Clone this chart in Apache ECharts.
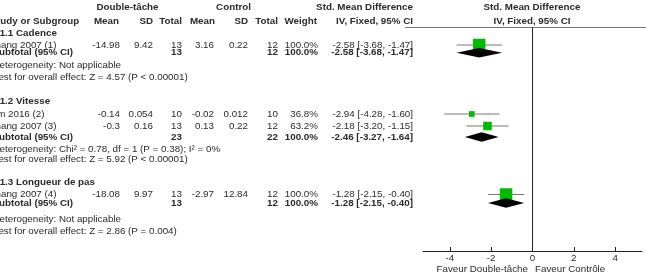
<!DOCTYPE html>
<html>
<head>
<meta charset="utf-8">
<title>Forest plot</title>
<script src="https://cdn.jsdelivr.net/npm/echarts@6/dist/echarts.min.js"></script>
<style>
  html, body { margin: 0; padding: 0; background: #fff; }
  #chart_01 { width: 646px; height: 274px; }
</style>
</head>
<body>
<div id="chart_01"></div>
<script>
// 数据
var groups = ['1.1.1 Cadence', '1.1.2 Vitesse', '1.1.3 Longueur de pas'];
var studies = ['Zhang 2007 (1)', 'Lim 2016 (2)', 'Zhang 2007 (3)', 'Zhang 2007 (4)'];
var studyGroup = [0, 1, 1, 2];
var dtMean = [-14.98, -0.14, -0.3, -18.08];
var dtSD = [9.42, 0.054, 0.16, 9.97];
var dtN = [13, 10, 13, 13];
var ctMean = [3.16, -0.02, 0.13, -2.97];
var ctSD = [0.22, 0.012, 0.22, 12.84];
var ctN = [12, 10, 12, 12];
var weight = [100.0, 36.8, 63.2, 100.0];
var smd = [-2.58, -2.94, -2.18, -1.28];
var smdLo = [-3.68, -4.28, -3.20, -2.15];
var smdHi = [-1.47, -1.60, -1.15, -0.40];

var subN1 = [13, 23, 13];
var subN2 = [12, 22, 12];
var subWeight = [100.0, 100.0, 100.0];
var subSmd = [-2.58, -2.46, -1.28];
var subLo = [-3.68, -3.27, -2.15];
var subHi = [-1.47, -1.64, -0.40];
var heterogeneity = [
    'Heterogeneity: Not applicable',
    'Heterogeneity: Chi\u00b2 = 0.78, df = 1 (P = 0.38); I\u00b2 = 0%',
    'Heterogeneity: Not applicable'
];
var overallEffect = [
    'Test for overall effect: Z = 4.57 (P < 0.00001)',
    'Test for overall effect: Z = 5.92 (P < 0.00001)',
    'Test for overall effect: Z = 2.86 (P = 0.004)'
];
var tickLabels = [-4, -2, 0, 2, 4];
var favourLeft = 'Faveur Double-t\u00e2che';
var favourRight = 'Faveur Contr\u00f4le';

;(function(window) {

    // 行位置 (y 轴坐标 = 页面像素行)
    var groupRow = [33, 101, 182];
    var studyRow = [45, 114, 126, 194.5];
    var subRow = [52.7, 137, 203];
    var hetRow = [65.5, 149, 219];
    var testRow = [77.5, 159, 231];

    var FONT = '9.8px "Liberation Sans", Arial, sans-serif';
    var BOLD = 'bold 9.8px "Liberation Sans", Arial, sans-serif';
    var COLOR = '#2a2a2a';

    initChart();

    function fmtCI(m, lo, hi) {
        return m.toFixed(2) + ' [' + lo.toFixed(2) + ', ' + hi.toFixed(2) + ']';
    }

    function txt(str, x, y, align, font) {
        return {
            type: 'text',
            silent: true,
            style: {
                text: str, x: x, y: y,
                textAlign: align || 'left',
                textVerticalAlign: 'middle',
                font: font || FONT,
                fill: COLOR
            }
        };
    }

    function buildTable() {
        var g = [];
        var left = -8.5;
        // 表头
        g.push(txt('Double-t\u00e2che', 127.5, 7.5, 'center', BOLD));
        g.push(txt('Control', 233.5, 7.5, 'center', BOLD));
        g.push(txt('Std. Mean Difference', 413, 7.5, 'right', BOLD));
        g.push(txt('Std. Mean Difference', 532, 7.5, 'center', BOLD));
        g.push(txt('Study or Subgroup', left - 1, 21, 'left', BOLD));
        g.push(txt('Mean', 119, 21, 'right', BOLD));
        g.push(txt('SD', 153, 21, 'right', BOLD));
        g.push(txt('Total', 182, 21, 'right', BOLD));
        g.push(txt('Mean', 215, 21, 'right', BOLD));
        g.push(txt('SD', 248, 21, 'right', BOLD));
        g.push(txt('Total', 278, 21, 'right', BOLD));
        g.push(txt('Weight', 317, 21, 'right', BOLD));
        g.push(txt('IV, Fixed, 95% CI', 413, 21, 'right', BOLD));
        g.push(txt('IV, Fixed, 95% CI', 532, 21, 'center', BOLD));

        g.push({
            type: 'line', silent: true,
            shape: { x1: 405, y1: 27.5, x2: 646, y2: 27.5 },
            style: { stroke: '#777', lineWidth: 1 }
        });

        for (var k = 0; k < groups.length; k++) {
            g.push(txt(groups[k], left, groupRow[k], 'left', BOLD));
            g.push(txt('Subtotal (95% CI)', left + 1, subRow[k], 'left', BOLD));
            g.push(txt(String(subN1[k]), 182, subRow[k], 'right', BOLD));
            g.push(txt(String(subN2[k]), 278, subRow[k], 'right', BOLD));
            g.push(txt(subWeight[k].toFixed(1) + '%', 318, subRow[k], 'right', BOLD));
            g.push(txt(fmtCI(subSmd[k], subLo[k], subHi[k]), 413, subRow[k], 'right', BOLD));
            g.push(txt(heterogeneity[k], left + 1, hetRow[k]));
            g.push(txt(overallEffect[k], left + 2, testRow[k]));
        }
        for (var i = 0; i < studies.length; i++) {
            var y = studyRow[i];
            g.push(txt(studies[i], left - 2, y));
            g.push(txt(String(dtMean[i]), 120, y, 'right'));
            g.push(txt(String(dtSD[i]), 153, y, 'right'));
            g.push(txt(String(dtN[i]), 182, y, 'right'));
            g.push(txt(String(ctMean[i]), 214, y, 'right'));
            g.push(txt(String(ctSD[i]), 248, y, 'right'));
            g.push(txt(String(ctN[i]), 278, y, 'right'));
            g.push(txt(weight[i].toFixed(1) + '%', 318, y, 'right'));
            g.push(txt(fmtCI(smd[i], smdLo[i], smdHi[i]), 413, y, 'right'));
        }
        g.push(txt(favourLeft, 528, 269, 'right'));
        g.push(txt(favourRight, 535, 269, 'left'));
        return g;
    }

    function initChart() {
        var myChart_01 = echarts.init(document.getElementById('chart_01'));

        var studyData = studies.map(function(s, i) {
            return [smd[i], studyRow[i], smdLo[i], smdHi[i], weight[i]];
        });
        var subData = groups.map(function(s, k) {
            return [subSmd[k], subRow[k], subLo[k], subHi[k]];
        });

        var options = {
            animation: false,
            grid: { left: 423, right: 4, top: 27, bottom: 23 },
            xAxis: {
                type: 'value', min: -5.3, max: 5.3,
                splitLine: { show: false },
                axisLine: { lineStyle: { color: '#222', width: 1 } },
                axisTick: { inside: true, length: 4, customValues: tickLabels, lineStyle: { color: '#222' } },
                axisLabel: {
                    customValues: tickLabels, margin: 2,
                    fontSize: 9.8, color: '#2a2a2a', fontFamily: '"Liberation Sans", Arial, sans-serif'
                }
            },
            yAxis: {
                type: 'value', min: 27, max: 251, inverse: true, show: false
            },
            graphic: buildTable(),
            series: [{
                name: 'studies',
                type: 'custom',
                data: studyData,
                encode: { x: [0, 2, 3], y: 1 },
                renderItem: function(params, api) {
                    var y = api.value(1);
                    var c = api.coord([api.value(0), y]);
                    var a = api.coord([api.value(2), y]);
                    var b = api.coord([api.value(3), y]);
                    var s = 1.8 + 0.107 * api.value(4);
                    return {
                        type: 'group',
                        children: [{
                            type: 'line',
                            shape: { x1: a[0], y1: c[1], x2: b[0], y2: c[1] },
                            style: { stroke: '#777', lineWidth: 1 }
                        }, {
                            type: 'rect',
                            shape: { x: c[0] - s / 2, y: c[1] - s / 2, width: s, height: s },
                            style: { fill: '#00bb00' }
                        }]
                    };
                },
                markLine: {
                    silent: true, symbol: 'none',
                    label: { show: false },
                    lineStyle: { color: '#222', width: 1, type: 'solid' },
                    data: [{ xAxis: 0 }]
                }
            }, {
                name: 'subtotals',
                type: 'custom',
                data: subData,
                encode: { x: [0, 2, 3], y: 1 },
                renderItem: function(params, api) {
                    var y = api.value(1);
                    var c = api.coord([api.value(0), y]);
                    var a = api.coord([api.value(2), y]);
                    var b = api.coord([api.value(3), y]);
                    var h = 4.7;
                    return {
                        type: 'polygon',
                        shape: { points: [[a[0], c[1]], [c[0], c[1] - h], [b[0], c[1]], [c[0], c[1] + h]] },
                        style: { fill: '#000' }
                    };
                }
            }]
        };

        myChart_01.setOption(options);
    }

}(window));
</script>
</body>
</html>
